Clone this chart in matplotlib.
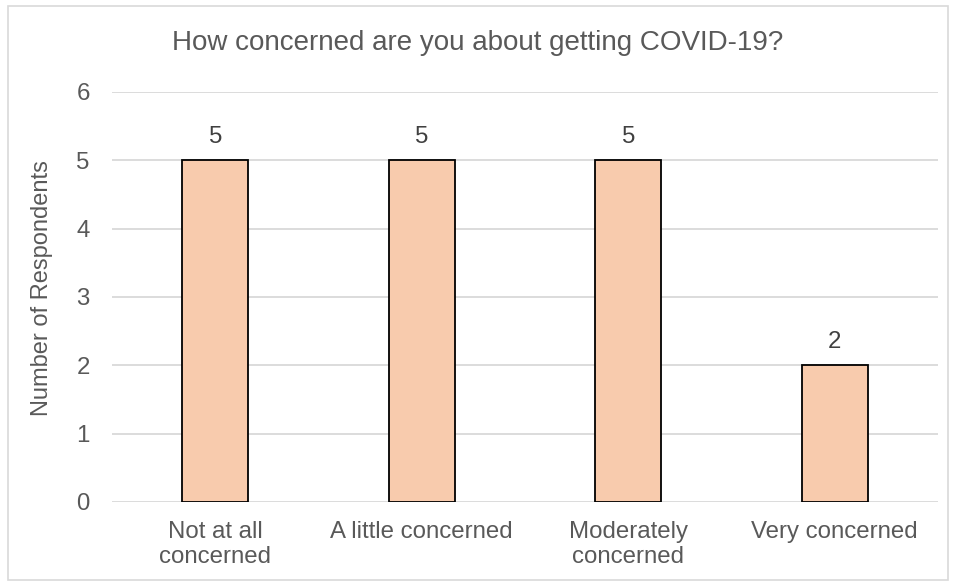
import matplotlib.pyplot as plt
from matplotlib.patches import Rectangle

categories = ["Not at all\nconcerned", "A little concerned", "Moderately\nconcerned", "Very concerned"]
counts = [5, 5, 5, 2]
yticks = [0, 1, 2, 3, 4, 5, 6]

plt.rcParams['font.family'] = ['Liberation Sans', 'DejaVu Sans']
text_col = "#595959"
grid_col = "#D9D9D9"
fs = 17.3

fig = plt.figure(figsize=(9.56, 5.85), dpi=100)
ax = fig.add_axes([0.1172, 0.1419, 0.864, 0.7009])

x = range(len(categories))
bars = ax.bar(x, counts, width=0.32, color="#F8CBAD", edgecolor="black", linewidth=1.3, zorder=3)

for i, v in zip(x, counts):
    ax.annotate(str(v), (i, v), xytext=(0, 16.5), textcoords="offset points",
                ha="center", va="center", fontsize=fs, color="#404040")

ax.set_xlim(-0.5, len(categories) - 0.5)
ax.set_ylim(0, 6)
ax.set_yticks(yticks)
ax.set_xticks(list(x))
ax.set_xticklabels(categories, linespacing=1.15)
ax.tick_params(axis="both", length=0, labelsize=fs, colors=text_col)
ax.tick_params(axis="y", pad=16)
ax.tick_params(axis="x", pad=14)
ax.yaxis.grid(True, color=grid_col, linewidth=1.3, zorder=0)
for s in ax.spines.values():
    s.set_visible(False)

fig.text(42 / 956, 1 - 288 / 585, "Number of Respondents", rotation=90,
         ha="center", va="center", fontsize=17, color=text_col)
fig.text(0.5, 0.927, "How concerned are you about getting COVID-19?",
         ha="center", va="center", fontsize=20, color=text_col)

fig.patches.append(Rectangle((8 / 956, 5 / 585), 940 / 956, 574 / 585, transform=fig.transFigure,
                             fill=False, edgecolor=grid_col, linewidth=1.2))

fig.savefig("out.png", dpi=100)
